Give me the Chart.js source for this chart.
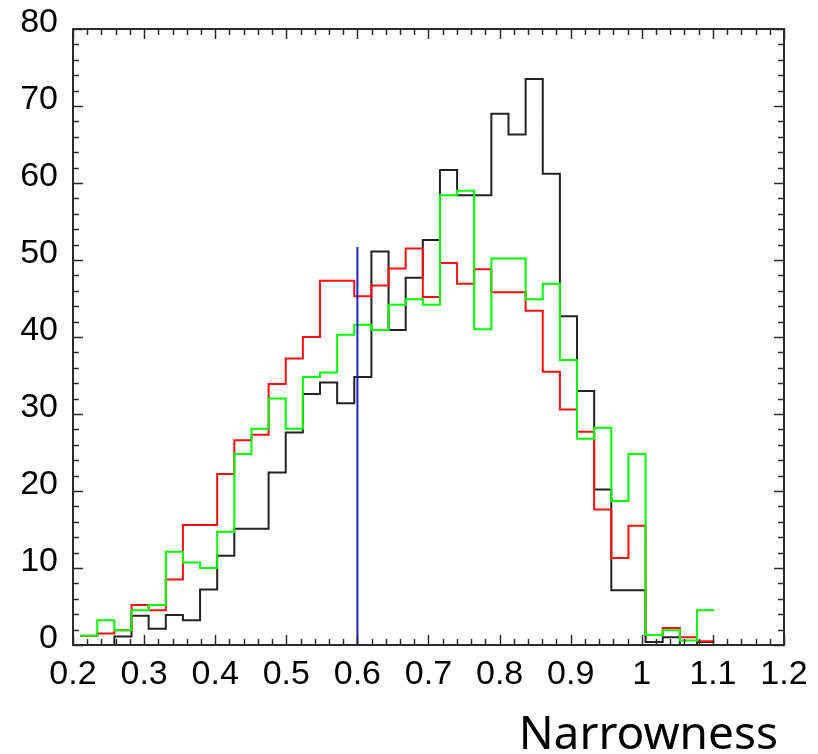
<!DOCTYPE html>
<html lang="en">
<head>
<meta charset="UTF-8">
<title>Narrowness</title>
<script src="https://cdn.jsdelivr.net/npm/chart.js"></script>
<style>
  html, body { margin: 0; padding: 0; background: #fff; }
  #wrap { width: 818px; height: 754px; }
</style>
</head>
<body>
<div id="wrap"><canvas id="histChart" width="818" height="754"></canvas></div>
<script>
// histogram binning along the narrowness axis
const binStart = 0.21;
const binWidth = 0.0241;

// entries per bin, one array per sample
const blackCounts = [0, 0, 1.1, 3.8, 2.1, 3.9, 3.2, 7.2, 11.6, 15.1, 15.1, 22.4, 27.6, 32.6, 34.1, 31.4,
  34.8, 51.1, 40.9, 47.7, 52.6, 61.7, 58.4, 58.4, 69.0, 66.3, 73.5, 61.2, 42.7, 33.0, 20.2,
  7.1, 7.1, 0.4, 1.0, 0, 0.4];
const redCounts = [1.2, 1.5, 1.9, 5.2, 4.5, 8.5, 15.6, 15.6, 22.2, 26.6, 27.3, 33.9, 37.2, 40.0, 47.3, 47.3,
  45.3, 46.7, 48.9, 51.5, 45.2, 49.6, 46.9, 48.8, 45.8, 45.8, 43.4, 35.5, 30.6, 27.7, 17.6,
  11.3, 15.5, 1.3, 2.2, 1.0, 0.5];
const greenCounts = [1.2, 3.2, 1.9, 4.5, 5.2, 12.1, 10.7, 10.0, 14.7, 24.8, 28.1, 32.0, 28.1, 34.8, 35.4, 40.3,
  41.6, 40.9, 44.2, 44.9, 44.2, 58.4, 59.0, 41.0, 50.2, 50.2, 44.9, 46.9, 37.0, 26.8, 28.2,
  18.7, 24.8, 1.3, 1.9, 0.6, 4.5];

// cut line
const cutValue = 0.6;
const cutHeight = 51.7;

const xTickValues = [0.2, 0.3, 0.4, 0.5, 0.6, 0.7, 0.8, 0.9, 1, 1.1, 1.2];
const yTickValues = [0, 10, 20, 30, 40, 50, 60, 70, 80];
const xTitle = 'Narrowness';

// step points: each bin value held from its left edge to the next edge
function toSteps(counts) {
  const pts = counts.map((c, i) => ({ x: binStart + i * binWidth, y: c }));
  pts.push({ x: binStart + counts.length * binWidth, y: counts[counts.length - 1] });
  return pts;
}

function histSet(counts, color) {
  return {
    data: toSteps(counts),
    borderColor: color,
    borderWidth: 2,
    stepped: 'before',
    pointRadius: 0,
    fill: false
  };
}

// frame with inward ticks on all four sides, plus the axis title
const frameTicks = {
  id: 'frameTicks',
  afterDraw(chart) {
    const { ctx, chartArea: a, scales: { x, y } } = chart;
    ctx.save();
    ctx.strokeStyle = '#2b2b2b';
    ctx.lineWidth = 1.5;
    ctx.beginPath();
    for (let i = 0; i <= 50; i++) {
      const px = Math.round(x.getPixelForValue(0.2 + i * 0.02)) + 0.5;
      const len = i % 5 === 0 ? 10 : 6;
      ctx.moveTo(px, a.bottom); ctx.lineTo(px, a.bottom - len);
      ctx.moveTo(px, a.top); ctx.lineTo(px, a.top + len);
    }
    for (let i = 0; i <= 40; i++) {
      const py = Math.round(y.getPixelForValue(i * 2)) + 0.5;
      const len = i % 5 === 0 ? 10 : 6;
      ctx.moveTo(a.left, py); ctx.lineTo(a.left + len, py);
      ctx.moveTo(a.right, py); ctx.lineTo(a.right - len, py);
    }
    ctx.stroke();
    ctx.lineWidth = 2;
    ctx.strokeRect(a.left, a.top, a.right - a.left, a.bottom - a.top);

    ctx.fillStyle = '#000';
    ctx.font = '46px "Noto Sans", sans-serif';
    ctx.textAlign = 'right';
    ctx.textBaseline = 'alphabetic';
    ctx.fillText(xTitle, 778, 749);
    ctx.restore();
  }
};

const tickFont = { family: '"Liberation Sans", Arial, sans-serif', size: 34 };

new Chart(document.getElementById('histChart'), {
  type: 'line',
  data: {
    datasets: [
      {
        data: [{ x: cutValue, y: 0 }, { x: cutValue, y: cutHeight }],
        borderColor: '#2020c8',
        borderWidth: 2,
        pointRadius: 0,
        fill: false
      },
      histSet(greenCounts, '#00ff00'),
      histSet(redCounts, '#ff1010'),
      histSet(blackCounts, '#222222')
    ]
  },
  options: {
    responsive: false,
    devicePixelRatio: 1,
    animation: false,
    layout: { padding: { top: 29, right: 34, bottom: 0, left: 0 } },
    plugins: { legend: { display: false }, tooltip: { enabled: false } },
    scales: {
      x: {
        type: 'linear',
        min: 0.2,
        max: 1.2,
        grid: { display: false, drawTicks: false },
        border: { display: false },
        ticks: { font: tickFont, color: '#000', padding: 9, maxRotation: 0, callback: v => String(v) },
        afterBuildTicks: s => { s.ticks = xTickValues.map(v => ({ value: v })); },
        afterFit: s => { s.height = 109; s.paddingLeft = 0; s.paddingRight = 0; }
      },
      y: {
        min: 0,
        max: 80,
        grid: { display: false, drawTicks: false },
        border: { display: false },
        ticks: { font: tickFont, color: '#000', padding: 15, labelOffset: -6, callback: v => String(v) },
        afterBuildTicks: s => { s.ticks = yTickValues.map(v => ({ value: v })); },
        afterFit: s => { s.width = 73; s.paddingTop = 0; s.paddingBottom = 0; }
      }
    }
  },
  plugins: [frameTicks]
});
</script>
</body>
</html>
